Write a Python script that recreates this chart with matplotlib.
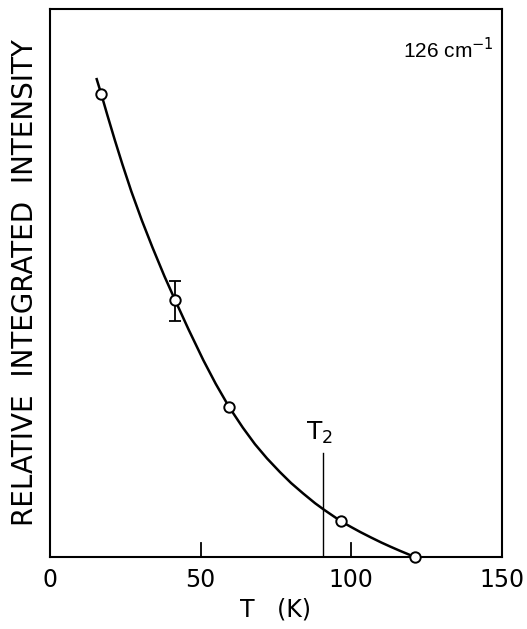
import matplotlib
matplotlib.use("Agg")
import matplotlib.pyplot as plt

# Measured data points (T in K, relative integrated intensity)
T_pts = [17.0, 41.5, 59.4, 96.6, 121.0]
I_pts = [0.845, 0.469, 0.274, 0.066, 0.0]
err_T = [41.5]
err_I = [0.467]
err_size = [0.036]

# Hand-drawn guide curve
T_curve = [15.5, 17.0, 19.0, 21.5, 24.0, 27.0, 30.5, 34.0, 38.0, 41.5, 46.0,
           50.9, 55.0, 59.4, 64.0, 68.0, 72.0, 76.3, 80.0, 84.0, 88.0, 91.0,
           96.6, 100.0, 103.0, 106.5, 110.0, 113.0, 116.0, 118.5, 121.0]
I_curve = [0.872, 0.845, 0.807, 0.761, 0.717, 0.667, 0.614, 0.565, 0.512, 0.469, 0.415,
           0.359, 0.316, 0.274, 0.236, 0.206, 0.180, 0.155, 0.135, 0.116, 0.098, 0.086,
           0.065, 0.0545, 0.0455, 0.0357, 0.0263, 0.0188, 0.0116, 0.0059, 0.0]

T2 = 90.5
T2_top = 0.19

xticks = [50, 100]
xticklabels_pos = [0, 50, 100, 150]

fig = plt.figure(figsize=(5.27, 6.29), dpi=100)
ax = fig.add_axes([50/527, 1-557/629, 452/527, 548/629])

ax.plot(T_curve, I_curve, color="black", lw=1.8, zorder=2,
        solid_joinstyle="round")
ax.errorbar(err_T, err_I, yerr=err_size, fmt="none", ecolor="black",
            elinewidth=1.3, capsize=4, capthick=1.3, zorder=1)
ax.plot(T_pts, I_pts, "o", ms=7.5, mfc="white", mec="black", mew=1.4,
        zorder=3, clip_on=False)
ax.plot([T2, T2], [0, T2_top], color="black", lw=1.0)
ax.text(T2 - 1.0, T2_top + 0.012, r"T$_2$", fontsize=18, ha="center", va="bottom")

ax.text(117, 0.91, r"126 cm$^{-1}$", fontsize=15, ha="left", va="baseline",
        family=["Liberation Sans", "DejaVu Sans"])

ax.set_xlim(0, 150)
ax.set_ylim(0, 1)
ax.set_yticks([])
ax.set_xticks(xticklabels_pos)
ax.set_xticklabels([str(v) for v in xticklabels_pos], fontsize=17)
ax.tick_params(axis="x", direction="in", length=0, pad=8)
for t in xticks:
    ax.plot([t, t], [0, 0.025], color="black", lw=1.3)
for s in ax.spines.values():
    s.set_linewidth(1.5)

ax.set_xlabel("T   (K)", fontsize=17, labelpad=4)
ax.set_ylabel("RELATIVE  INTEGRATED  INTENSITY", fontsize=20, labelpad=8)

fig.savefig("out.png", dpi=100)
